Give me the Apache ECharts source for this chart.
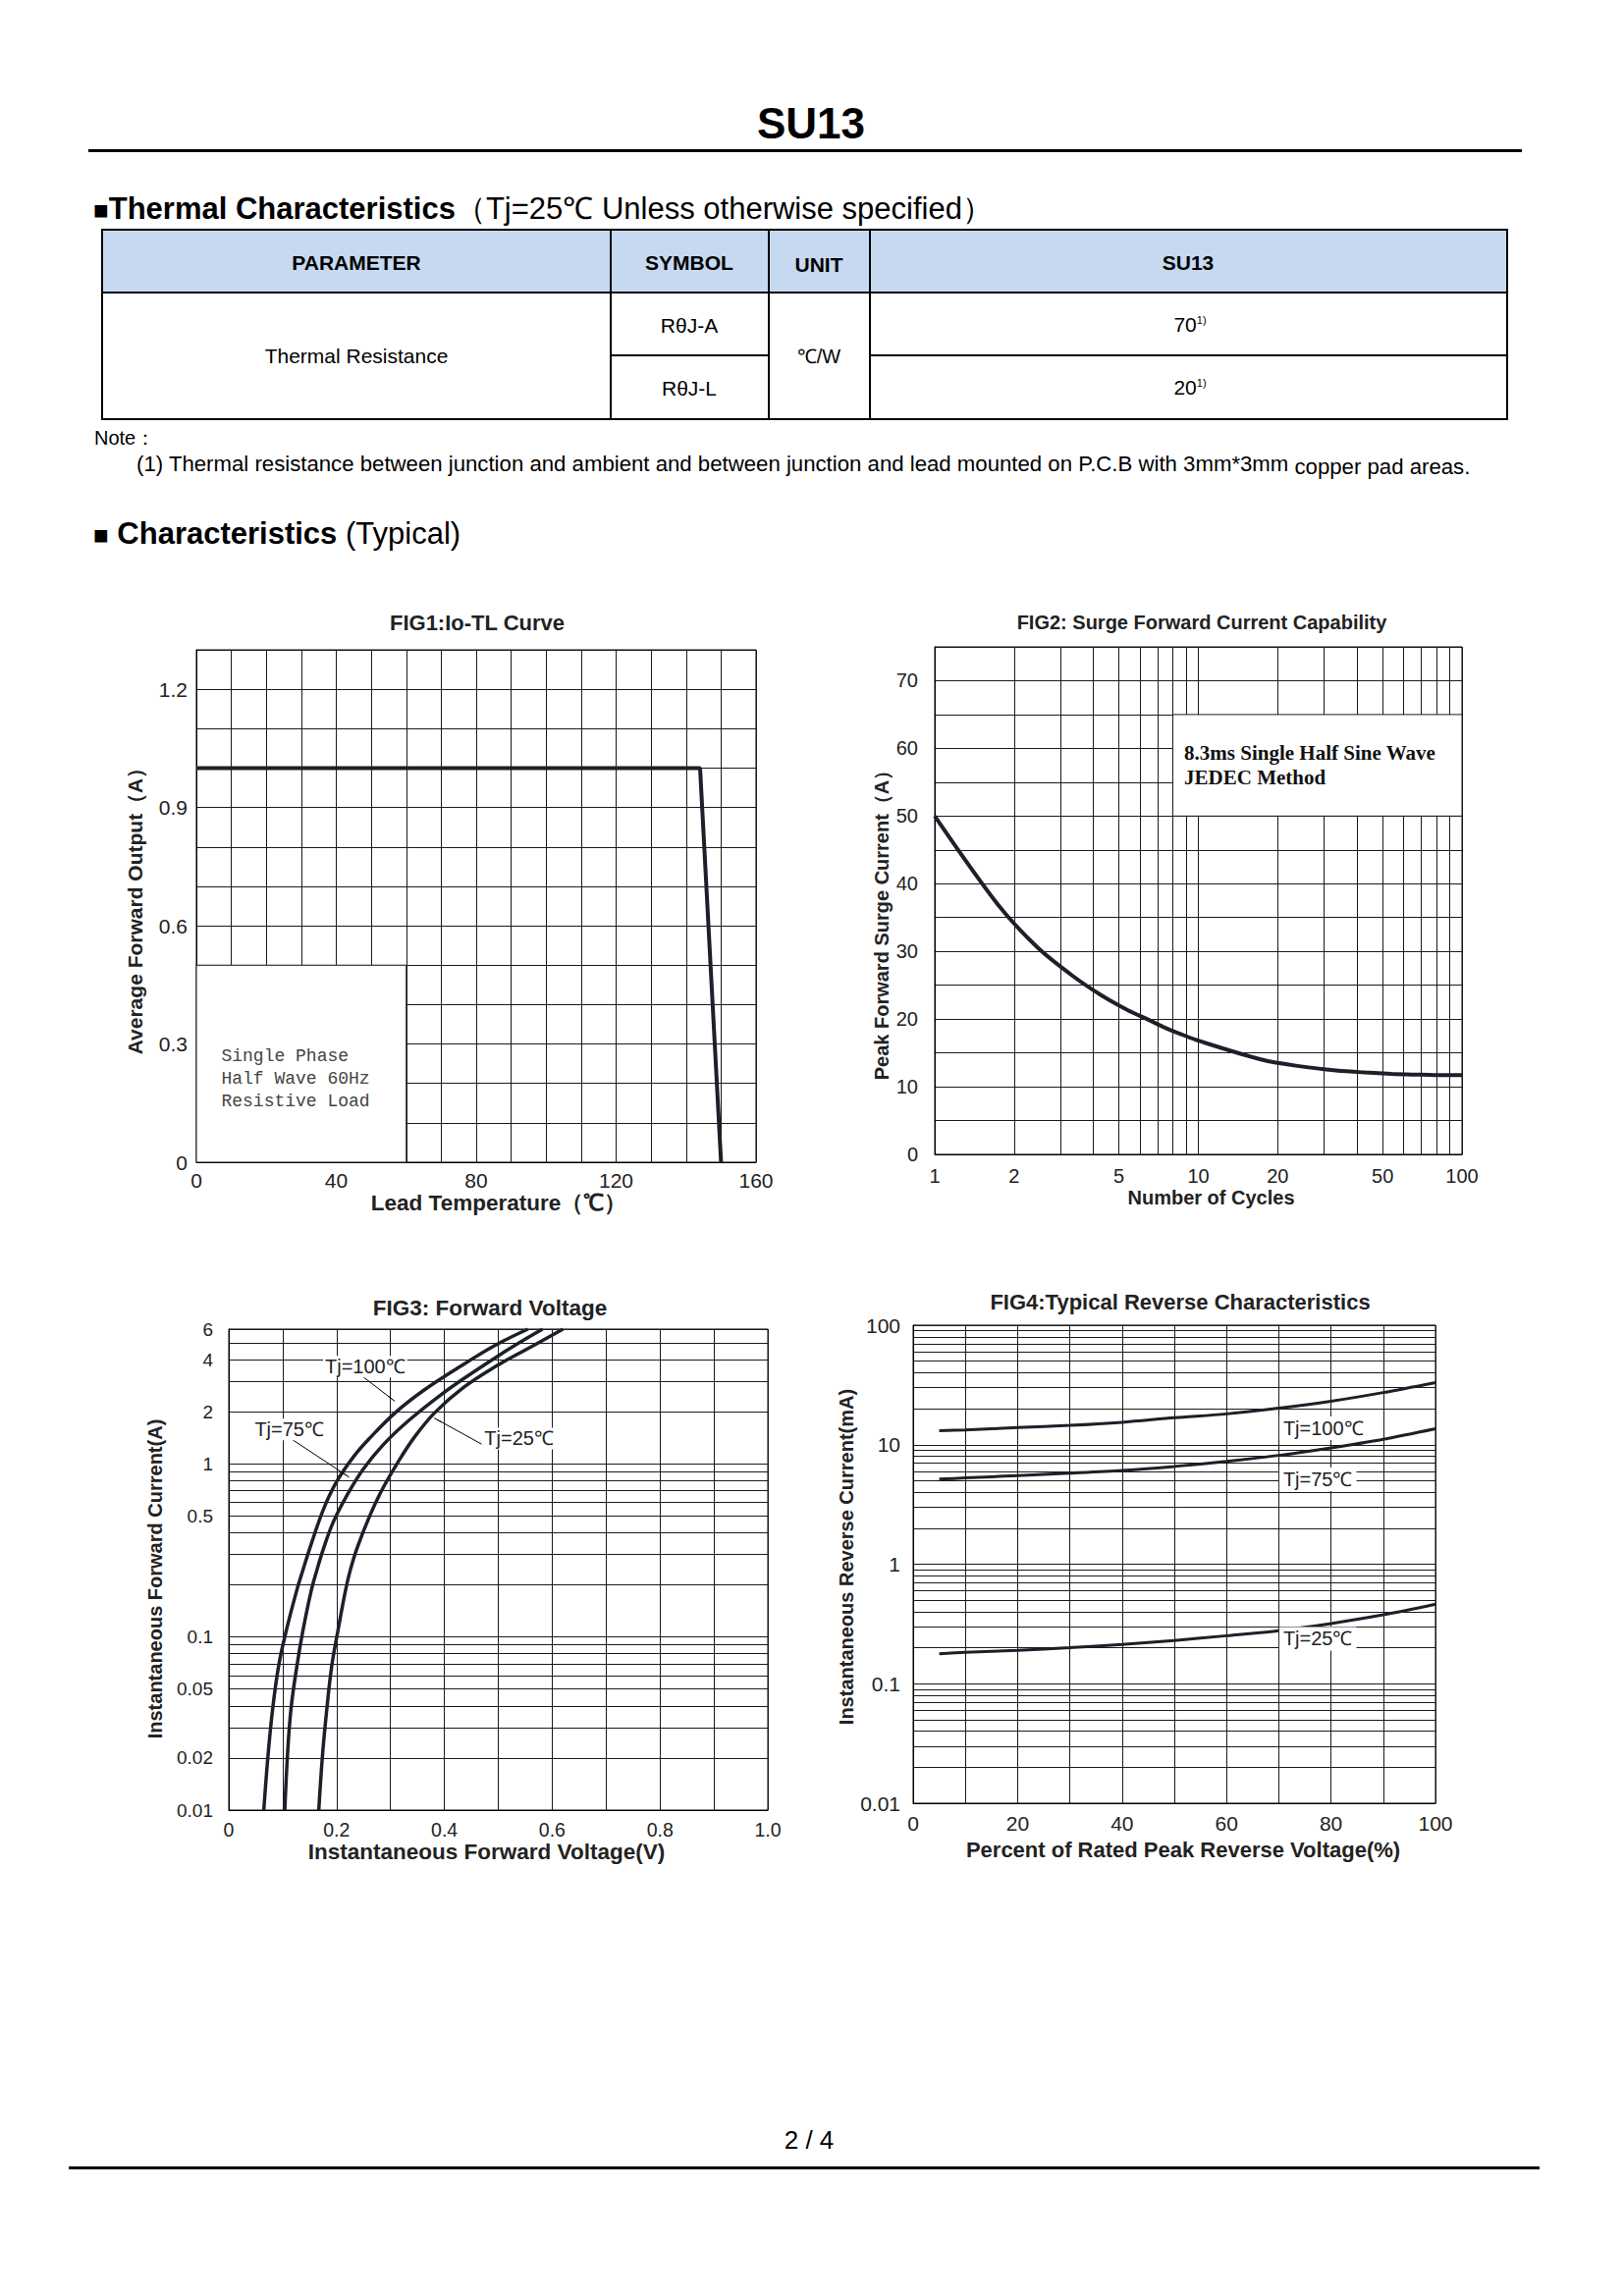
<!DOCTYPE html>
<html><head><meta charset="utf-8">
<script src="https://cdn.jsdelivr.net/npm/echarts@6/dist/echarts.min.js"></script>
<style>
html,body{margin:0;padding:0;background:#fff;}
#page{position:relative;width:1654px;height:2339px;overflow:hidden;font-family:"Liberation Sans",Arial,sans-serif;color:#000;background:#fff;}
#chart{position:absolute;left:0;top:0;width:1654px;height:2339px;}
.t{position:absolute;white-space:nowrap;line-height:1;transform:translateY(-50%);}
.c{transform:translate(-50%,-50%);}
.ln{position:absolute;background:#000;}
</style></head>
<body><div id="page"><div id="chart"></div></div>
<script>
// ---------------- DATA ----------------
const docTitle = 'SU13';
const tableHeaders = ['PARAMETER', 'SYMBOL', 'UNIT', 'SU13'];
const paramName = 'Thermal Resistance';
const symbols = ['RθJ-A', 'RθJ-L'];
const unitText = '℃/W';
const thermalValues = [70, 20];

const fig1Temp = [0, 144, 150];
const fig1Current = [1.0, 1.0, 0];
const fig1XLabels = [0, 40, 80, 120, 160];
const fig1YLabels = [0, 0.3, 0.6, 0.9, 1.2];

const fig2Cycles = [1.0, 1.73, 2.45, 3.33, 4.29, 5.41, 6.47, 7.5, 8.68, 10.0, 17.4, 24.5, 33.3, 43.0, 54.0, 64.9, 75.4, 87.0, 100];
const fig2Current = [50.0, 37.0, 30.6, 26.4, 23.5, 21.3, 19.9, 18.7, 17.7, 16.8, 14.0, 13.0, 12.4, 12.1, 11.9, 11.8, 11.75, 11.7, 11.7];
const fig2XGrid = [1, 2, 3, 4, 5, 6, 7, 8, 9, 10, 20, 30, 40, 50, 60, 70, 80, 90, 100];
const fig2XLabels = [1, 2, 5, 10, 20, 50, 100];
const fig2YLabels = [0, 10, 20, 30, 40, 50, 60, 70];

const fig3V100 = [0.065, 0.073, 0.0815, 0.0925, 0.106, 0.126, 0.137, 0.1545, 0.176, 0.199, 0.232, 0.264, 0.31, 0.36, 0.425, 0.495, 0.555];
const fig3I100 = [0.01, 0.021, 0.0386, 0.068, 0.1066, 0.1853, 0.2405, 0.356, 0.55, 0.779, 1.105, 1.434, 1.988, 2.635, 3.58, 4.85, 6.0];
const fig3V75 = [0.104, 0.109, 0.1155, 0.1264, 0.137, 0.153, 0.163, 0.176, 0.194, 0.219, 0.249, 0.286, 0.334, 0.395, 0.456, 0.522, 0.582];
const fig3I75 = [0.01, 0.021, 0.0386, 0.068, 0.1066, 0.1853, 0.2405, 0.326, 0.462, 0.655, 0.927, 1.284, 1.781, 2.525, 3.42, 4.65, 6.0];
const fig3V25 = [0.167, 0.174, 0.182, 0.191, 0.202, 0.2165, 0.225, 0.238, 0.262, 0.285, 0.313, 0.345, 0.383, 0.435, 0.495, 0.556, 0.62];
const fig3I25 = [0.01, 0.021, 0.0386, 0.068, 0.1066, 0.1853, 0.2405, 0.326, 0.505, 0.714, 1.012, 1.434, 1.988, 2.754, 3.65, 4.65, 6.0];
const fig3XLabels = [0, 0.2, 0.4, 0.6, 0.8, 1.0];
const fig3YLabels = [0.01, 0.02, 0.05, 0.1, 0.5, 1, 2, 4, 6];
const fig3YGrid = [0.01, 0.02, 0.03, 0.04, 0.05, 0.06, 0.07, 0.08, 0.09, 0.1, 0.2, 0.3, 0.4, 0.5, 0.6, 0.7, 0.8, 0.9, 1, 2, 3, 4, 5, 6];

const fig4Pct = [5, 10, 20, 30, 40, 50, 60, 70, 80, 90, 100];
const fig4I100 = [13.1, 13.3, 13.9, 14.5, 15.4, 16.8, 18.1, 20.2, 23.1, 27.3, 33.1];
const fig4I75 = [5.15, 5.27, 5.52, 5.78, 6.09, 6.58, 7.26, 8.14, 9.41, 11.1, 13.6];
const fig4I25 = [0.178, 0.183, 0.19, 0.2, 0.213, 0.23, 0.252, 0.278, 0.319, 0.377, 0.463];
const fig4XLabels = [0, 20, 40, 60, 80, 100];
const fig4YLabels = [0.01, 0.1, 1, 10, 100];
const fig4YGrid = [0.01, 0.02, 0.03, 0.04, 0.05, 0.06, 0.07, 0.08, 0.09, 0.1, 0.2, 0.3, 0.4, 0.5, 0.6, 0.7, 0.8, 0.9, 1, 2, 3, 4, 5, 6, 7, 8, 9, 10, 20, 30, 40, 50, 60, 70, 80, 90, 100];

// ---------------- PAGE TEXT ----------------
const page = document.getElementById('page');
function put(html, x, cy, style, center) {
  const d = document.createElement('div');
  d.className = 't' + (center ? ' c' : '');
  d.style.left = x + 'px'; d.style.top = cy + 'px';
  Object.assign(d.style, style || {});
  d.innerHTML = html;
  page.appendChild(d);
  return d;
}
function rule(x, y, w, h, color) {
  const d = document.createElement('div');
  d.className = 'ln';
  d.style.left = x + 'px'; d.style.top = y + 'px';
  d.style.width = w + 'px'; d.style.height = h + 'px';
  if (color) d.style.background = color;
  page.appendChild(d);
}
put(docTitle, 826, 126, {fontSize: '44px', fontWeight: 'bold'}, true);
rule(90, 152, 1460, 3);

put('<span style="font-size:26px">■</span><b>Thermal Characteristics</b>（Tj=25℃ Unless otherwise specified）', 95, 212, {fontSize: '31px'});

// table
rule(104, 234, 1431, 64, '#C6D9F1');
rule(103, 233, 1433, 2); rule(103, 297, 1433, 2); rule(103, 426, 1433, 2);
rule(621, 361, 163, 2); rule(885, 361, 651, 2);
[104, 622, 783, 886, 1535].forEach(x => rule(x - 1, 233, 2, 195));
const hx = [363, 702, 834, 1210];
tableHeaders.forEach((h, i) => put(h, hx[i], i === 2 ? 269 : 267, {fontSize: '21px', fontWeight: 'bold'}, true));
put(paramName, 363, 362, {fontSize: '21px'}, true);
put(symbols[0], 702, 331, {fontSize: '21px'}, true);
put(symbols[1], 702, 395, {fontSize: '21px'}, true);
put(unitText, 834, 363, {fontSize: '20px'}, true);
put(thermalValues[0] + '<sup style="font-size:11px">1)</sup>', 1212, 330, {fontSize: '21px'}, true);
put(thermalValues[1] + '<sup style="font-size:11px">1)</sup>', 1212, 394, {fontSize: '21px'}, true);

put('Note：', 96, 446, {fontSize: '20px'});
put('(1) Thermal resistance between junction and ambient and between junction and lead mounted on P.C.B with 3mm*3mm <span style="position:relative;top:3px">copper pad areas.</span>', 139, 473, {fontSize: '22.2px'});

put('<span style="font-size:26px">■</span> <b>Characteristics</b> (Typical)', 95, 543, {fontSize: '31px'});

put('2 / 4', 824, 2180, {fontSize: '26px'}, true);
rule(70, 2207, 1498, 3);

// ---------------- CHARTS ----------------
const FONT = '"Liberation Sans", Arial, sans-serif';
const CURVE = '#1b2029';
const GRIDLINE = '#1a1a1a';
const zip = (a, b) => a.map((v, i) => [v, b[i]]);
const fmtNum = v => (v === 0 ? '0' : String(+(+v).toPrecision(4)));
const fmt1 = v => (v === 0 ? '0' : (+v).toFixed(1));

function axis(o) {
  const base = {
    axisLine: {show: true, onZero: false, lineStyle: {color: '#000', width: 1}},
    axisTick: {show: false},
    splitLine: {show: true, lineStyle: {color: GRIDLINE, width: 1}},
    nameLocation: 'middle',
  };
  const r = Object.assign(base, o);
  r.axisLabel = Object.assign({fontFamily: FONT, color: '#222', fontSize: 20}, o.axisLabel || {});
  r.nameTextStyle = Object.assign({fontFamily: FONT, color: '#222', fontSize: 20, fontWeight: 'bold'}, o.nameTextStyle || {});
  return r;
}
function textMark(coord, text, lab) {
  return {
    coord: coord, symbol: 'circle', symbolSize: 1, itemStyle: {color: 'rgba(0,0,0,0)'},
    label: Object.assign({show: true, position: 'right', distance: 0, formatter: text,
      fontFamily: FONT, fontSize: 20, color: '#222', align: 'left', verticalAlign: 'middle'}, lab || {})
  };
}
function title(text, x, y, size) {
  return {type: 'text', x: x, y: y, silent: true,
    style: {text: text, fontFamily: FONT, fontSize: size || 20, fontWeight: 'bold', fill: '#222', align: 'center', verticalAlign: 'middle'}};
}
const GRID = {show: true, borderColor: '#000', borderWidth: 1, backgroundColor: 'rgba(0,0,0,0)'};
const arrowStyle = {silent: true, symbol: ['none', 'arrow'], symbolSize: [1, 9], label: {show: false},
  lineStyle: {color: '#000', width: 1, type: 'solid'}};

const option = {
  animation: false,
  textStyle: {fontFamily: FONT},
  graphic: [
    title('FIG1:Io-TL Curve', 486, 634, 22),
    title('FIG2: Surge Forward Current Capability', 1224, 634, 20),
    title('FIG3: Forward Voltage', 499, 1332, 22.5),
    title('FIG4:Typical Reverse Characteristics', 1202, 1326, 22),
  ],
  grid: [
    Object.assign({left: 200, top: 662, width: 570, height: 522}, GRID),
    Object.assign({left: 952, top: 659, width: 537, height: 517}, GRID),
    Object.assign({left: 233, top: 1354, width: 549, height: 490}, GRID),
    Object.assign({left: 930, top: 1350, width: 532, height: 487}, GRID),
  ],
  xAxis: [
    axis({gridIndex: 0, type: 'value', min: 0, max: 160, interval: 10,
      axisLabel: {customValues: fig1XLabels, formatter: fmtNum, margin: 8, fontSize: 21},
      name: 'Lead Temperature（℃）', nameGap: 27, nameTextStyle: {padding: [0, 0, 0, 46], fontSize: 22.5}}),
    axis({gridIndex: 1, type: 'log', logBase: 10, min: 1, max: 100,
      axisTick: {show: false, customValues: fig2XGrid},
      axisLabel: {customValues: fig2XLabels, formatter: fmtNum, margin: 12, fontSize: 20},
      name: 'Number of Cycles', nameGap: 34, nameTextStyle: {padding: [0, 0, 0, 26]}}),
    axis({gridIndex: 2, type: 'value', min: 0, max: 1, interval: 0.1,
      axisLabel: {customValues: fig3XLabels, formatter: fmt1, margin: 10, fontSize: 19.5},
      name: 'Instantaneous Forward Voltage(V)', nameGap: 30, nameTextStyle: {padding: [0, 24, 0, 0], fontSize: 22.5}}),
    axis({gridIndex: 3, type: 'value', min: 0, max: 100, interval: 10,
      axisLabel: {customValues: fig4XLabels, formatter: fmtNum, margin: 10, fontSize: 21},
      name: 'Percent of Rated Peak Reverse Voltage(%)', nameGap: 36, nameTextStyle: {padding: [0, 0, 0, 18], fontSize: 22}}),
  ],
  yAxis: [
    axis({gridIndex: 0, type: 'value', min: 0, max: 1.3, interval: 0.1,
      axisLabel: {customValues: fig1YLabels, formatter: fmt1, margin: 9, fontSize: 21},
      name: 'Average Forward Output（A）', nameGap: 52, nameTextStyle: {fontSize: 21}}),
    axis({gridIndex: 1, type: 'value', min: 0, max: 75, interval: 5,
      axisLabel: {customValues: fig2YLabels, formatter: fmtNum, margin: 17, fontSize: 20},
      name: 'Peak Forward Surge Current（A）', nameGap: 44, nameTextStyle: {padding: [0, 40, 0, 0]}}),
    axis({gridIndex: 2, type: 'log', logBase: 10, min: 0.01, max: 6,
      axisTick: {show: false, customValues: fig3YGrid},
      axisLabel: {customValues: fig3YLabels, formatter: fmtNum, margin: 16, fontSize: 19},
      name: 'Instantaneous Forward Current(A)', nameGap: 65, nameTextStyle: {padding: [0, 19, 0, 0]}}),
    axis({gridIndex: 3, type: 'log', logBase: 10, min: 0.01, max: 100,
      axisTick: {show: false, customValues: fig4YGrid},
      axisLabel: {customValues: fig4YLabels, formatter: fmtNum, margin: 13, fontSize: 21},
      name: 'Instantaneous Reverse Current(mA)', nameGap: 58, nameTextStyle: {padding: [0, 0, 0, 15]}}),
  ],
  series: [
    {type: 'line', name: 'Io', xAxisIndex: 0, yAxisIndex: 0, data: zip(fig1Temp, fig1Current),
      symbol: 'none', lineStyle: {color: CURVE, width: 4}, emphasis: {disabled: true}, z: 3,
      markArea: {silent: true, label: {show: false}, itemStyle: {color: '#fff', borderColor: GRIDLINE, borderWidth: 1},
        data: [[{xAxis: 0, yAxis: 0}, {xAxis: 60, yAxis: 0.5}]]},
      markPoint: {silent: true, data: [textMark([7, 0.212], 'Single Phase\nHalf Wave 60Hz\nResistive Load',
        {fontFamily: '"Liberation Mono", "DejaVu Sans Mono", monospace', fontSize: 18, lineHeight: 23, color: '#444'})]}},
    {type: 'line', name: 'IFSM', xAxisIndex: 1, yAxisIndex: 1, data: zip(fig2Cycles, fig2Current),
      symbol: 'none', smooth: 0.3, lineStyle: {color: CURVE, width: 4}, emphasis: {disabled: true}, z: 3,
      markArea: {silent: true, label: {show: false}, itemStyle: {color: '#fff', borderColor: GRIDLINE, borderWidth: 1},
        data: [[{xAxis: 8, yAxis: 50}, {xAxis: 100, yAxis: 65}]]},
      markPoint: {silent: true, data: [textMark([8.8, 57.5], '8.3ms Single Half Sine Wave\nJEDEC Method',
        {fontFamily: '"Liberation Serif", "DejaVu Serif", serif', fontWeight: 'bold', fontSize: 21, lineHeight: 25, color: '#111'})]}},
    {type: 'line', name: 'Tj=100℃', xAxisIndex: 2, yAxisIndex: 2, data: zip(fig3V100, fig3I100),
      symbol: 'none', smooth: 0.4, lineStyle: {color: CURVE, width: 3.5}, emphasis: {disabled: true}, z: 3,
      markLine: Object.assign({data: [[{coord: [0.247, 3.22]}, {coord: [0.308, 2.30]}]]}, arrowStyle),
      markPoint: {silent: true, data: [textMark([0.174, 3.64], 'Tj=100℃', {backgroundColor: '#fff', padding: [1, 2]})]}},
    {type: 'line', name: 'Tj=75℃', xAxisIndex: 2, yAxisIndex: 2, data: zip(fig3V75, fig3I75),
      symbol: 'none', smooth: 0.4, lineStyle: {color: CURVE, width: 3.5}, emphasis: {disabled: true}, z: 3,
      markLine: Object.assign({data: [[{coord: [0.109, 1.44]}, {coord: [0.2235, 0.837]}]]}, arrowStyle),
      markPoint: {silent: true, data: [textMark([0.0435, 1.58], 'Tj=75℃', {backgroundColor: '#fff', padding: [1, 2]})]}},
    {type: 'line', name: 'Tj=25℃', xAxisIndex: 2, yAxisIndex: 2, data: zip(fig3V25, fig3I25),
      symbol: 'none', smooth: 0.4, lineStyle: {color: CURVE, width: 3.5}, emphasis: {disabled: true}, z: 3,
      markLine: Object.assign({data: [[{coord: [0.469, 1.30]}, {coord: [0.381, 1.84]}]]}, arrowStyle),
      markPoint: {silent: true, data: [textMark([0.4696, 1.40], 'Tj=25℃', {backgroundColor: '#fff', padding: [1, 2]})]}},
    {type: 'line', name: 'IR Tj=100℃', xAxisIndex: 3, yAxisIndex: 3, data: zip(fig4Pct, fig4I100),
      symbol: 'none', smooth: 0.3, lineStyle: {color: CURVE, width: 3}, emphasis: {disabled: true}, z: 3,
      markPoint: {silent: true, data: [textMark([70.0, 13.7], 'Tj=100℃', {backgroundColor: '#fff', padding: [2, 4]})]}},
    {type: 'line', name: 'IR Tj=75℃', xAxisIndex: 3, yAxisIndex: 3, data: zip(fig4Pct, fig4I75),
      symbol: 'none', smooth: 0.3, lineStyle: {color: CURVE, width: 3}, emphasis: {disabled: true}, z: 3,
      markPoint: {silent: true, data: [textMark([70.0, 5.14], 'Tj=75℃', {backgroundColor: '#fff', padding: [2, 4]})]}},
    {type: 'line', name: 'IR Tj=25℃', xAxisIndex: 3, yAxisIndex: 3, data: zip(fig4Pct, fig4I25),
      symbol: 'none', smooth: 0.3, lineStyle: {color: CURVE, width: 3}, emphasis: {disabled: true}, z: 3,
      markPoint: {silent: true, data: [textMark([70.0, 0.238], 'Tj=25℃', {backgroundColor: '#fff', padding: [2, 4]})]}},
  ]
};
const chart = echarts.init(document.getElementById('chart'), null, {renderer: 'svg', width: 1654, height: 2339});
chart.setOption(option);
</script></body></html>
